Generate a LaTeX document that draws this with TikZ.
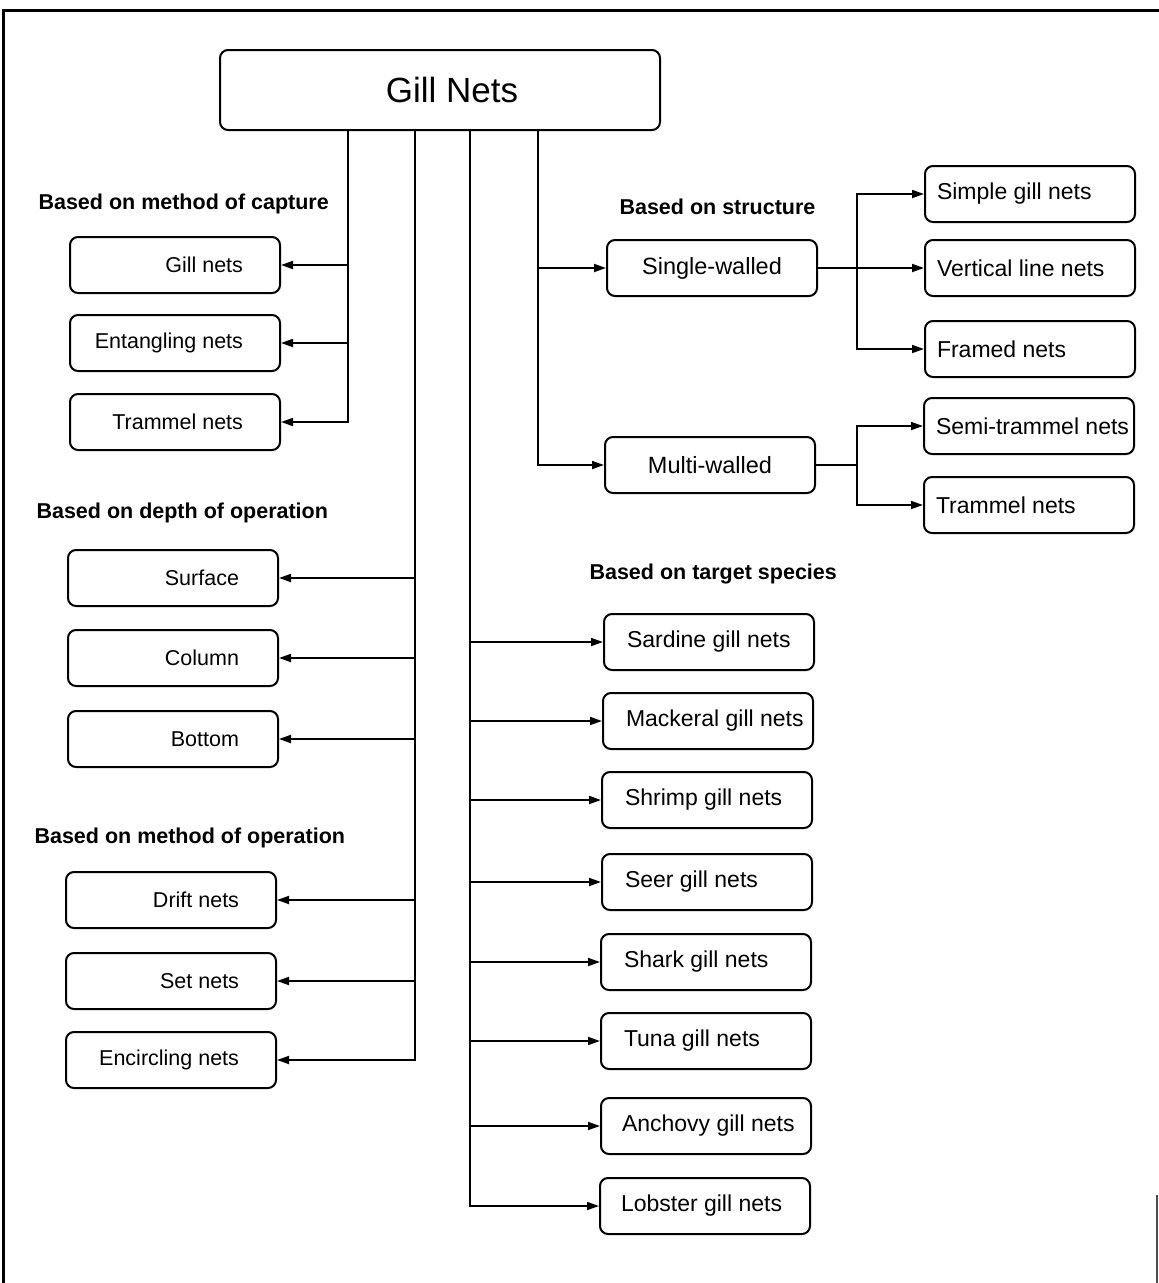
\documentclass[tikz,border=0pt]{standalone}
\usepackage{fontspec}
\setmainfont{Liberation Sans}
\usetikzlibrary{arrows.meta}
% text set inside a fixed box, padded from one side
\newcommand{\padleft}[2]{\makebox[202pt][l]{\hspace*{#1}#2}}
\newcommand{\padright}[2]{\makebox[202pt][r]{#2\rule{#1}{0pt}}}

\begin{document}
\begin{tikzpicture}[x=1pt,y=-1pt,
    box/.style={draw,line width=2pt,rounded corners=8pt,minimum height=56pt,
      inner xsep=4pt,inner ysep=2pt},
    leftbox/.style={box,font=\fontsize{21.5}{24}\selectfont},
    rightbox/.style={box,font=\fontsize{23}{27}\selectfont},
    midbox/.style={box,minimum width=210pt,font=\fontsize{23.5}{27}\selectfont},
    head/.style={anchor=west,font=\bfseries\fontsize{21.5}{24}\selectfont},
    link/.style={line width=1.8pt,-{Triangle[length=12pt,width=8pt]}},
    bus/.style={line width=1.8pt}]
  \useasboundingbox (0,0) rectangle (1159,1283);
  % frame
  \draw[line width=3pt] (3,1283) -- (3,10) -- (1159,10);
  \draw[line width=1.5pt,black!70] (1157,1195) -- (1157,1283);

  \node[draw,line width=2pt,rounded corners=8pt,minimum width=440pt,minimum height=80pt,
    font=\fontsize{35}{40}\selectfont] (top) at (440,90) {\hspace*{24pt}Gill Nets};

  % bus lines
  \coordinate (bcap) at (348,0);
  \coordinate (bdepth) at (415,0);
  \coordinate (bspecies) at (470,0);
  \coordinate (bstruct) at (538,0);
  \coordinate (sjoin) at (857,0);

  % method of capture
  \node[head] (hcap) at (35,204) {Based on method of capture};
  \node[leftbox] (gillA) at (175,265) {\padright{33pt}{Gill nets}};
  \node[leftbox] (entangle) at (175,343) {\padright{33pt}{Entangling nets}};
  \node[leftbox] (trammelA) at (175,422) {\padright{33pt}{Trammel nets}};

  % depth of operation
  \node[head] (hdepth) at (33,513) {Based on depth of operation};
  \node[leftbox] (surface) at (173,578) {\padright{35pt}{Surface}};
  \node[leftbox] (column) at (173,658) {\padright{35pt}{Column}};
  \node[leftbox] (bottom) at (173,739) {\padright{35pt}{Bottom}};

  % method of operation
  \node[head] (hop) at (31,838) {Based on method of operation};
  \node[leftbox] (drift) at (171,900) {\padright{33pt}{Drift nets}};
  \node[leftbox] (setnet) at (171,981) {\padright{33pt}{Set nets}};
  \node[leftbox] (encircle) at (171,1060) {\padright{33pt}{Encircling nets}};

  % structure
  \node[head] (hstruct) at (616,207) {Based on structure};
  \node[midbox] (single) at (712,268) {Single-walled};
  \node[midbox] (multi) at (710,465) {Multi-walled};
  \node[rightbox] (simple) at (1030,194) {\padleft{8pt}{Simple gill nets}};
  \node[rightbox] (vertical) at (1030,268) {\padleft{8pt}{Vertical line nets}};
  \node[rightbox] (framed) at (1030,349) {\padleft{8pt}{Framed nets}};
  \node[rightbox] (semi) at (1029,426) {\padleft{8pt}{Semi-trammel nets}};
  \node[rightbox] (trammelB) at (1029,505) {\padleft{8pt}{Trammel nets}};

  % target species
  \node[head] (hspecies) at (586,574) {Based on target species};
  \node[rightbox] (sardine) at (709,642) {\padleft{19pt}{Sardine gill nets}};
  \node[rightbox] (mackeral) at (708,721) {\padleft{19pt}{Mackeral gill nets}};
  \node[rightbox] (shrimp) at (707,800) {\padleft{19pt}{Shrimp gill nets}};
  \node[rightbox] (seer) at (707,882) {\padleft{19pt}{Seer gill nets}};
  \node[rightbox] (shark) at (706,962) {\padleft{19pt}{Shark gill nets}};
  \node[rightbox] (tuna) at (706,1041) {\padleft{19pt}{Tuna gill nets}};
  \node[rightbox] (anchovy) at (706,1126) {\padleft{17pt}{Anchovy gill nets}};
  \node[rightbox] (lobster) at (705,1206) {\padleft{17pt}{Lobster gill nets}};

  % connectors
  \draw[link] (top.south -| bcap) |- (gillA.east);
  \draw[link] (top.south -| bcap) |- (entangle.east);
  \draw[link] (top.south -| bcap) |- (trammelA.east);

  \draw[link] (top.south -| bdepth) |- (surface.east);
  \draw[link] (top.south -| bdepth) |- (column.east);
  \draw[link] (top.south -| bdepth) |- (bottom.east);
  \draw[link] (top.south -| bdepth) |- (drift.east);
  \draw[link] (top.south -| bdepth) |- (setnet.east);
  \draw[link] (top.south -| bdepth) |- (encircle.east);

  \draw[link] (top.south -| bstruct) |- (single.west);
  \draw[link] (top.south -| bstruct) |- (multi.west);
  \draw[link] (single.east) -- (vertical.west);
  \draw[link] (single.east -| sjoin) |- (simple.west);
  \draw[link] (single.east -| sjoin) |- (framed.west);
  \draw[bus] (multi.east) -- (multi.east -| sjoin);
  \draw[link] (multi.east -| sjoin) |- (semi.west);
  \draw[link] (multi.east -| sjoin) |- (trammelB.west);

  \draw[link] (top.south -| bspecies) |- (sardine.west);
  \draw[link] (top.south -| bspecies) |- (mackeral.west);
  \draw[link] (top.south -| bspecies) |- (shrimp.west);
  \draw[link] (top.south -| bspecies) |- (seer.west);
  \draw[link] (top.south -| bspecies) |- (shark.west);
  \draw[link] (top.south -| bspecies) |- (tuna.west);
  \draw[link] (top.south -| bspecies) |- (anchovy.west);
  \draw[link] (top.south -| bspecies) |- (lobster.west);
\end{tikzpicture}
\end{document}
